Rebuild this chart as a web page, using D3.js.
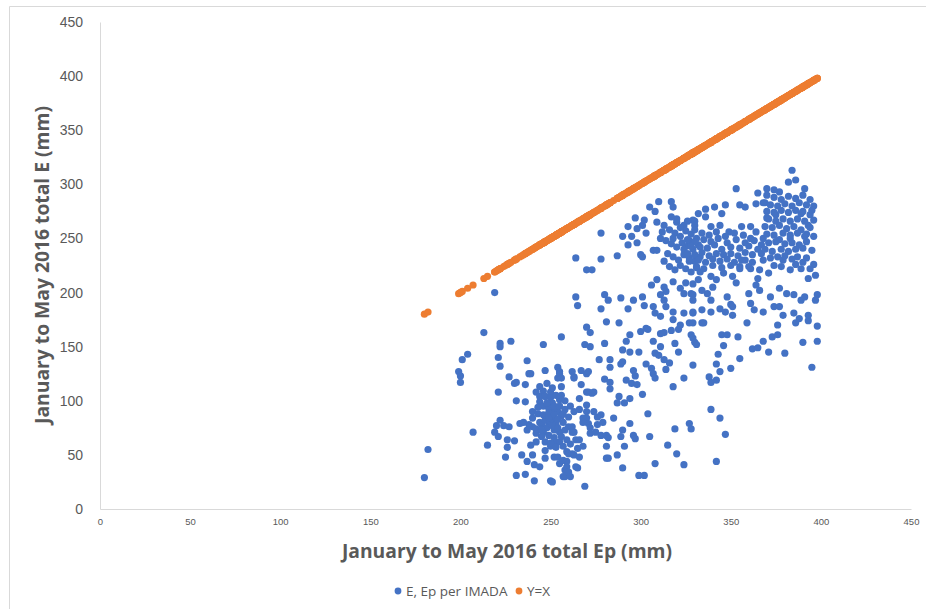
<!DOCTYPE html>
<html>
<head>
<meta charset="utf-8">
<script src="https://cdn.jsdelivr.net/npm/d3@7"></script>
<style>
  body { margin: 0; background: #fff; }
  svg { display: block; font-family: "Open Sans", "Noto Sans", sans-serif; }
</style>
</head>
<body>
<div id="wrapper"></div>
<script>

// E vs Ep, one [Ep, E] pair per point
const imadaPoints = [
  // sparse left side and outliers
  [180,29],[182,55],[199,127],[200,123],[200,117],[201,138],[204,143],[207,71],[213,163],[215,59],
  [219,200],[219,71],[220,77],[221,67],[221,140],[221,108],[222,153],[222,150],[222,132],[222,82],
  [224,77],[225,48],[226,64],[226,57],[227,122],[227,76],[228,155],[230,63],[230,116],[231,117],
  [231,100],[231,31],[233,79],[234,50],[236,115],[236,99],[236,32],[237,137],[237,44],[238,125],
  [239,59],[239,125],[240,50],[240,90],[240,84],[240,76],[241,41],[241,26],[242,108],[242,70],
  [242,62],[244,99],[244,39],[245,78],[246,152],[246,109],[246,71],[247,128],[247,54],[247,47],
  [249,79],[250,108],[250,58],[250,26],[251,98],[251,85],[251,25],[252,91],[252,73],[252,48],
  [253,61],[253,82],[254,131],[254,121],[254,48],[254,90],[255,127],[255,42],[255,125],[255,101],
  [255,71],[255,62],[256,159],[256,121],[256,113],[256,105],[257,45],[257,30],[258,36],[258,30],
  [259,53],[259,39],[259,44],[260,76],[260,51],[260,34],[261,30],[262,71],[262,51],[262,127],
  [262,76],[263,122],[263,50],[263,121],[263,71],
  // lower core
  [244,104],[247,104],[250,103],[253,105],[246,95],[249,93],[252,95],[255,95],[243,88],[246,87],
  [249,89],[252,87],[256,86],[244,80],[247,82],[250,80],[253,78],[257,80],[242,74],[248,75],
  [251,77],[254,75],[258,73],[245,67],[249,68],[252,66],[256,67],[259,64],[247,62],[250,61],
  [253,57],[257,58],[261,60],[238,78],[235,80],[237,73],[244,113],[251,112],[248,116],[258,92],
  [260,85],[263,90],[258,100],[261,95],[243,94],[248,98],[257,88],[254,83],[245,73],[249,84],
  // middle, Ep 264-302
  [264,196],[264,232],[264,64],[264,39],[265,38],[265,188],[265,56],[266,64],[266,102],[266,48],
  [267,128],[267,115],[268,84],[268,58],[269,152],[269,21],[270,168],[270,221],[270,96],[270,125],
  [270,108],[270,84],[271,127],[271,108],[271,79],[272,150],[272,163],[272,70],[273,107],[273,221],
  [274,108],[275,71],[276,85],[277,138],[278,68],[278,255],[278,231],[278,185],[278,87],[280,153],
  [280,120],[280,198],[281,173],[281,68],[281,58],[281,47],[282,66],[282,47],[282,193],[283,131],
  [283,138],[283,117],[283,111],[285,84],[287,234],[287,98],[287,50],[288,172],[288,104],[289,134],
  [289,195],[289,67],[290,147],[290,136],[290,252],[290,73],[290,38],[291,98],[291,58],[292,155],
  [292,119],[293,185],[293,261],[293,244],[294,161],[294,145],[294,102],[294,79],[295,252],[295,116],
  [296,193],[296,128],[296,68],[297,269],[297,123],[297,65],[298,259],[298,246],[298,115],[299,145],
  [299,31],[300,235],[300,164],[301,262],[301,196],[301,233],[301,106],[302,31],
  [268,80],[272,75],[266,92],[274,90],[276,78],[270,90],[279,80],
  // middle, Ep 302-330
  [302,267],[302,188],[303,255],[303,167],[303,134],[304,166],[304,88],[305,279],[305,67],[306,207],
  [306,130],[307,239],[307,187],[307,155],[307,125],[308,181],[308,275],[308,144],[308,121],[308,42],
  [309,265],[309,239],[309,212],[310,284],[310,142],[311,250],[311,198],[311,178],[311,162],[311,150],
  [312,256],[313,262],[313,205],[313,138],[313,193],[313,163],[314,201],[314,187],[314,129],[315,59],
  [316,135],[317,284],[317,165],[318,279],[318,210],[318,182],[318,175],[318,113],[319,153],[319,74],
  [320,265],[320,51],[321,166],[321,145],[322,204],[322,170],[324,262],[324,199],[324,181],[324,121],
  [324,41],[325,209],[327,79],[327,172],[328,161],[328,74],[328,199],[329,267],[329,208],[329,198],
  [329,193],[329,181],[329,158],[329,133],[329,172],[329,182],
  [316,258],[319,255],[322,252],[325,257],[328,254],[331,250],[314,248],[317,245],[320,242],[323,246],
  [326,243],[329,240],[332,244],[315,236],[318,233],[321,230],[324,235],[327,232],[330,229],[333,233],
  [316,224],[319,221],[322,225],[325,222],[328,219],[331,223],[313,229],[320,268],[326,266],[317,270],
  [322,260],[330,262],[318,250],[327,248],
  // right side, Ep 330-398
  [330,266],[330,154],[331,152],[334,172],[345,161],[348,161],[354,159],[346,151],[343,143],[342,134],
  [344,127],[350,130],[355,139],[338,122],[339,117],[342,119],[362,148],[365,149],[368,155],[373,159],
  [376,161],[371,145],[380,144],[390,154],[398,155],[395,131],[339,92],[344,84],[347,69],[342,44],
  [359,172],[376,170],[386,172],[393,174],[398,169],[384,313],[382,302],[386,304],[353,296],[365,292],
  [391,296],[370,296],[374,295],[377,293],[341,279],[347,281],[355,281],[358,279],[364,282],[369,283],
  [345,273],[336,270],[339,261],[344,262],[349,256],[356,261],[361,261],[364,256],[368,250],[370,269],
  [375,272],[389,273],[394,272],[393,262],[391,252],[390,241],[392,232],[396,226],[387,233],[377,249],
  [383,250],[376,233],[379,230],[368,230],[366,221],[371,218],[383,221],[389,222],[393,213],[397,216],
  [358,230],[355,224],[361,222],[365,213],[364,207],[366,202],[351,215],[353,209],[346,218],[342,212],
  [339,215],[340,205],[337,199],[333,219],[332,212],[334,202],[339,193],[348,196],[350,189],[344,185],
  [351,187],[360,199],[361,190],[363,184],[372,196],[377,204],[381,199],[374,187],[377,187],[368,182],
  [385,198],[389,193],[391,196],[398,198],[397,193],[385,181],[388,176],[393,179],[379,179],[335,172],
  [334,184],[339,182],[351,179],[347,182],[332,273],[336,277],[330,258],
  // upper core
  [334,255],[338,253],[342,256],[347,252],[352,255],[357,253],[361,250],
  [326,249],[330,247],[335,249],[339,247],[343,250],[348,246],[353,249],[358,246],[363,248],[367,244],
  [324,240],[328,243],[333,242],[337,241],[341,244],[345,240],[350,242],[355,241],[360,243],[365,240],
  [326,236],[330,235],[334,237],[338,234],[342,236],[346,235],[350,236],[354,234],[358,237],[362,235],[367,236],
  [327,229],[332,230],[336,228],[340,231],[344,229],[348,231],[352,228],[356,230],[362,228],
  [331,224],[335,222],[340,225],[345,223],[350,225],[355,222],[360,224],
  // right cluster
  [370,290],[374,288],[378,286],[382,289],[386,287],[390,290],[394,286],
  [368,283],[372,281],[376,280],[380,282],[384,280],[388,283],[392,281],[396,280],
  [370,275],[374,274],[378,276],[382,274],[386,276],[390,275],[395,276],
  [371,268],[375,266],[379,268],[383,266],[387,268],[391,266],[396,267],
  [369,261],[373,260],[377,262],[381,259],[385,261],[389,258],[394,260],
  [370,254],[374,253],[379,255],[383,253],[387,255],[392,254],[396,252],
  [371,246],[375,247],[380,245],[384,246],[388,244],[392,247],
  [369,240],[373,238],[378,240],[382,238],[386,240],[395,239],
  [372,232],[380,234],[384,231],[390,228],[374,225],[378,224],[386,226],[394,222],
]

// Y=X series: each Ep value plotted against itself
const yEqualsX = imadaPoints.map(d => d[0])

const xTicks = [0, 50, 100, 150, 200, 250, 300, 350, 400, 450]
const yTicks = [0, 50, 100, 150, 200, 250, 300, 350, 400, 450]
const seriesNames = ["E, Ep per IMADA", "Y=X"]
const seriesColors = ["#4472c4", "#ed7d31"]
const xTitle = "January to May 2016 total Ep (mm)"
const yTitle = "January to May 2016 total E (mm)"


// dimensions and framing
let dimensions = {
  width: 926,
  height: 609,
  margin: {
    top: 22,
    right: 15,
    bottom: 100,
    left: 100,
  },
}
dimensions.boundedWidth = dimensions.width
  - dimensions.margin.left
  - dimensions.margin.right
dimensions.boundedHeight = dimensions.height
  - dimensions.margin.top
  - dimensions.margin.bottom

const wrapper = d3.select("#wrapper")
  .append("svg")
    .attr("width", dimensions.width)
    .attr("height", dimensions.height)

// chart area border (top and left edges are all that show)
wrapper.append("path")
    .attr("d", "M9.5,609V6.5H926")
    .attr("fill", "none")
    .attr("stroke", "#d9d9d9")

const bounds = wrapper.append("g")
    .attr("transform", `translate(${dimensions.margin.left}, ${dimensions.margin.top})`)


// scales
const xScale = d3.scaleLinear()
  .domain([0, 450])
  .range([0, dimensions.boundedWidth])

const yScale = d3.scaleLinear()
  .domain([0, 450])
  .range([dimensions.boundedHeight, 0])


// axes
const xAxis = bounds.append("g")
    .attr("transform", `translate(0, ${dimensions.boundedHeight})`)
    .call(d3.axisBottom(xScale).tickValues(xTicks).tickSize(0).tickPadding(9))
xAxis.select(".domain").attr("stroke", "#d9d9d9")
xAxis.selectAll("text")
    .attr("fill", "#595959")
    .style("font-size", "9.5px")

const yAxis = bounds.append("g")
    .call(d3.axisLeft(yScale).tickValues(yTicks).tickSize(0).tickPadding(17))
yAxis.select(".domain").attr("stroke", "#d9d9d9")
yAxis.selectAll("text")
    .attr("fill", "#595959")
    .style("font-size", "14px")


// points
const dotRadius = 3.6

bounds.append("g").selectAll("circle")
    .data(imadaPoints)
  .join("circle")
    .attr("cx", d => xScale(d[0]))
    .attr("cy", d => yScale(d[1]))
    .attr("r", dotRadius)
    .attr("fill", seriesColors[0])

bounds.append("g").selectAll("circle")
    .data(yEqualsX)
  .join("circle")
    .attr("cx", d => xScale(d))
    .attr("cy", d => yScale(d))
    .attr("r", dotRadius)
    .attr("fill", seriesColors[1])


// axis titles
wrapper.append("text")
    .attr("x", 507)
    .attr("y", 558)
    .attr("text-anchor", "middle")
    .attr("fill", "#595959")
    .style("font-size", "19.3px")
    .style("font-weight", "bold")
    .text(xTitle)

wrapper.append("text")
    .attr("transform", "translate(49, 265) rotate(-90)")
    .attr("text-anchor", "middle")
    .attr("fill", "#595959")
    .style("font-size", "19.3px")
    .style("font-weight", "bold")
    .text(yTitle)


// legend
const legendX = [398, 519]
const legend = wrapper.append("g")
    .attr("transform", "translate(0, 591)")

legend.selectAll("circle")
    .data(seriesNames)
  .join("circle")
    .attr("cx", (d, i) => legendX[i])
    .attr("cy", 0)
    .attr("r", 3.4)
    .attr("fill", (d, i) => seriesColors[i])

legend.selectAll("text")
    .data(seriesNames)
  .join("text")
    .attr("x", (d, i) => legendX[i] + 8)
    .attr("y", 5)
    .attr("fill", "#595959")
    .style("font-size", "13.5px")
    .text(d => d)

</script>
</body>
</html>
